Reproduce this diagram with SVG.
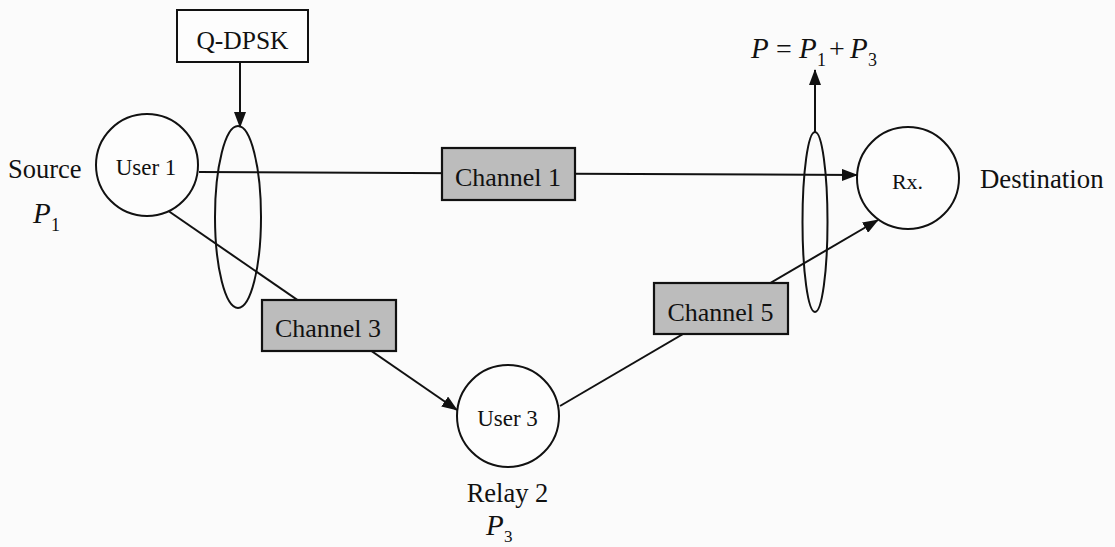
<svg xmlns="http://www.w3.org/2000/svg" width="1115" height="547" viewBox="0 0 1115 547">
<style>
.ln{stroke:#111;stroke-width:2;fill:none}
.nd{stroke:#111;stroke-width:2;fill:#fdfdfd}
.ch{stroke:#111;stroke-width:2.2;fill:#bcbcbc}
.t{font-family:"Liberation Serif","Times New Roman",serif;fill:#111}
.i{font-family:"Liberation Serif","Times New Roman",serif;font-style:italic;fill:#111}
.n{font-style:normal}
</style>
<defs>
<marker id="ah" markerUnits="userSpaceOnUse" markerWidth="16" markerHeight="12" refX="15" refY="6" orient="auto">
<path d="M0,0 L16,6 L0,12 Z" fill="#111"/>
</marker>
</defs>
<rect width="1115" height="547" fill="#fbfbfb"/>
<g id="connectors">
<line class="ln" x1="199" y1="172" x2="857" y2="175" marker-end="url(#ah)"/>
<line class="ln" x1="167" y1="210" x2="457" y2="410" marker-end="url(#ah)"/>
<line class="ln" x1="560" y1="406" x2="878" y2="220" marker-end="url(#ah)"/>
<line class="ln" x1="240" y1="62" x2="240" y2="127" marker-end="url(#ah)"/>
<line class="ln" x1="815" y1="132" x2="815" y2="70" marker-end="url(#ah)"/>
</g>
<g id="qdpsk">
<rect class="nd" x="177" y="10" width="131" height="52"/>
<text class="t" x="242.5" y="49" font-size="25.5" text-anchor="middle">Q-DPSK</text>
</g>
<g id="user1">
<circle class="nd" cx="147" cy="165" r="51"/>
<text class="t" x="146" y="175" font-size="23" text-anchor="middle">User 1</text>
</g>
<g id="source-label">
<text class="t" x="8" y="178" font-size="26.5">Source</text>
<text class="i" x="33" y="223" font-size="29">P<tspan class="n" x="51" y="231" font-size="18">1</tspan></text>
</g>
<g id="ellipse-left">
<ellipse class="ln" cx="238" cy="217" rx="23" ry="91"/>
</g>
<g id="ellipse-right">
<ellipse class="ln" cx="815" cy="222" rx="12.5" ry="90"/>
</g>
<g id="channel1">
<rect class="ch" x="442" y="148" width="133" height="52"/>
<text class="t" x="508" y="186" font-size="26" text-anchor="middle">Channel 1</text>
</g>
<g id="channel3">
<rect class="ch" x="262" y="300" width="134" height="51"/>
<text class="t" x="328" y="337" font-size="26" text-anchor="middle">Channel 3</text>
</g>
<g id="channel5">
<rect class="ch" x="654" y="283" width="134" height="51"/>
<text class="t" x="720.5" y="321" font-size="26" text-anchor="middle">Channel 5</text>
</g>
<g id="user3">
<circle class="nd" cx="508" cy="416" r="51"/>
<text class="t" x="507.5" y="426" font-size="23" text-anchor="middle">User 3</text>
<text class="t" x="507.5" y="502" font-size="26.5" text-anchor="middle">Relay 2</text>
<text class="i" x="486" y="535" font-size="29">P<tspan class="n" x="504" y="542" font-size="17">3</tspan></text>
</g>
<g id="rx">
<circle class="nd" cx="908" cy="178" r="51"/>
<text class="t" x="907.5" y="189" font-size="22" text-anchor="middle">Rx.</text>
<text class="t" x="980" y="188" font-size="26.8">Destination</text>
</g>
<g id="power-sum">
<text class="i" font-size="29" y="58"><tspan x="751">P</tspan><tspan class="n" x="776" font-size="28">=</tspan><tspan x="799">P</tspan><tspan class="n" x="817" y="66" font-size="18">1</tspan><tspan class="n" x="829" y="58" font-size="28">+</tspan><tspan x="850">P</tspan><tspan class="n" x="868" y="66" font-size="18">3</tspan></text>
</g>
</svg>
